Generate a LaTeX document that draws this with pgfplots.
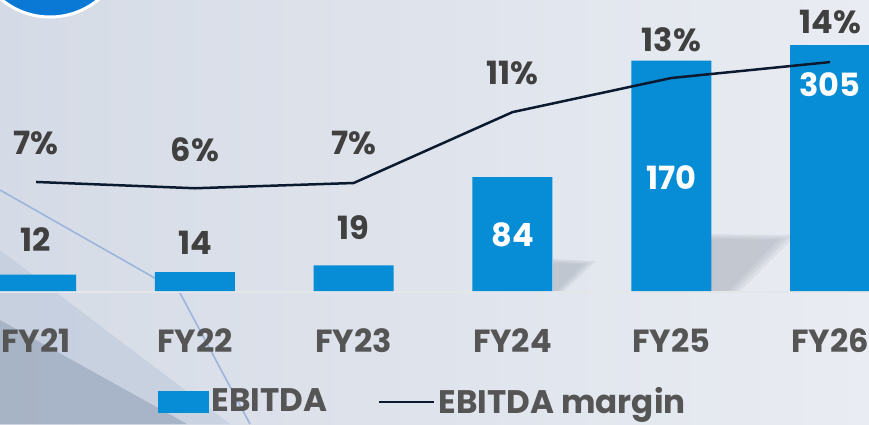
\documentclass[border=0pt]{standalone}
\usepackage{fontspec}
\setmainfont{Poppins}
\usepackage{pgfplots}
\pgfplotsset{compat=1.18}
\definecolor{barblue}{HTML}{068DD5}
\definecolor{linenavy}{HTML}{0B1A2E}
\definecolor{lbl}{HTML}{404040}
\definecolor{tickc}{HTML}{555555}
\definecolor{bgL}{HTML}{D5DBE6}
\definecolor{bgR}{HTML}{E9ECF2}
\definecolor{circ}{HTML}{0A79D6}
\definecolor{triA}{HTML}{B9C6DA}
\definecolor{triB}{HTML}{8F9DB3}
\definecolor{diag}{HTML}{9DB4DC}
\definecolor{shad}{HTML}{A2A8B4}
\definecolor{basel}{HTML}{E4E6EA}
\newcommand{\lf}{\bfseries\fontsize{16}{18}\selectfont}
\begin{document}
\begin{tikzpicture}[x=1pt,y=1pt]
\useasboundingbox (0,-66.5) rectangle (434.5,145.5);
\clip (0,-66.5) rectangle (434.5,145.5);
% background
\shade[left color=bgL, right color=bgR] (0,-66.5) rectangle (434.5,145.5);
\fill[triA, opacity=0.5] (0,20.5) -- (115,-66.5) -- (0,-66.5) -- cycle;
\fill[triB, opacity=0.55] (0,-14.5) -- (93.5,-66.5) -- (0,-66.5) -- cycle;
\draw[diag, line width=0.8pt] (0,50.5) -- (76.5,7) -- (90,-1) -- (125,-66.5);
\fill[circ, draw=white, line width=1.5pt] (25,175) circle (38);
% soft bar shadows
\foreach \k in {0,1,2,3} {
  \fill[shad, opacity=0.16] (276.5,16-0.6*\k) -- (298-2.2*\k,15-0.6*\k) -- (282-1.2*\k,0) -- (276.5,0) -- cycle;
  \fill[shad, opacity=0.16] (355.5,28.5-0.8*\k) -- (398-3*\k,28-0.8*\k) -- (370-2*\k,0) -- (355.5,0) -- cycle;
}
\draw[basel, line width=0.8pt] (0,-0.4) -- (434.5,-0.4);
\begin{axis}[
  at={(0,0)}, anchor=south west, scale only axis,
  width=434.5pt, height=123pt,
  xmin=-0.227, xmax=5.245, ymin=0, ymax=181.5,
  clip mode=individual,
  axis line style={draw=none}, major tick length=0pt,
  ytick=\empty, xtick={0,1,2,3,4,5},
  xticklabels={FY21,FY22,FY23,FY24,FY25,FY26},
  xticklabel style={font=\lf, text=tickc, anchor=center, yshift=-25pt},
  legend columns=2,
  legend style={draw=none, fill=none, font=\bfseries\fontsize{16.3}{18}\selectfont, text=tickc,
    at={(0.487,-0.45)}, anchor=center, inner sep=0pt,
    nodes={inner xsep=1.5pt, inner ysep=0pt},
    /tikz/every even column/.append style={column sep=24pt}},
]
\addplot[ybar, bar width=40pt, fill=barblue, draw=none, forget plot]
  coordinates {(0,12) (1,14) (2,19) (3,84) (4,170) (5,305)};
\addlegendimage{legend image code/.code={\fill[barblue] (0pt,-5.25pt) rectangle (25pt,5.25pt);}}
\addlegendentry{EBITDA}
\addlegendimage{legend image code/.code={\draw[linenavy, line width=1.2pt] (0pt,0pt) -- (27.5pt,0pt);}}
\addlegendentry{EBITDA margin}
% value labels
\node[font=\lf, text=lbl] at (axis cs:0,37.6) {12};
\node[font=\lf, text=lbl] at (axis cs:1,35.4) {14};
\node[font=\lf, text=lbl] at (axis cs:2,46.5) {19};
\node[font=\lf, text=white] at (axis cs:3,41.3) {84};
\node[font=\lf, text=white] at (axis cs:4,83.4) {170};
\node[font=\lf, text=white] at (axis cs:5,152) {305};
% margin labels
\node[font=\lf, text=lbl] at (axis cs:0,109.2) {7\%};
\node[font=\lf, text=lbl] at (axis cs:1,104.1) {6\%};
\node[font=\lf, text=lbl] at (axis cs:2,109.2) {7\%};
\node[font=\lf, text=lbl] at (axis cs:3,160.9) {11\%};
\node[font=\lf, text=lbl] at (axis cs:4,185.2) {13\%};
\node[font=\lf, text=lbl] at (axis cs:5,198.5) {14\%};
\end{axis}
\begin{axis}[
  at={(0,0)}, anchor=south west, scale only axis,
  width=434.5pt, height=123pt,
  xmin=-0.227, xmax=5.245, ymin=0.829, ymax=14.886,
  hide axis, clip=false,
]
\addplot[linenavy, line width=1.25pt, no marks]
  coordinates {(0,7.06) (1,6.7) (2,7.0) (3,11.05) (4,13.0) (5,13.91)};
\end{axis}
\end{tikzpicture}
\end{document}
